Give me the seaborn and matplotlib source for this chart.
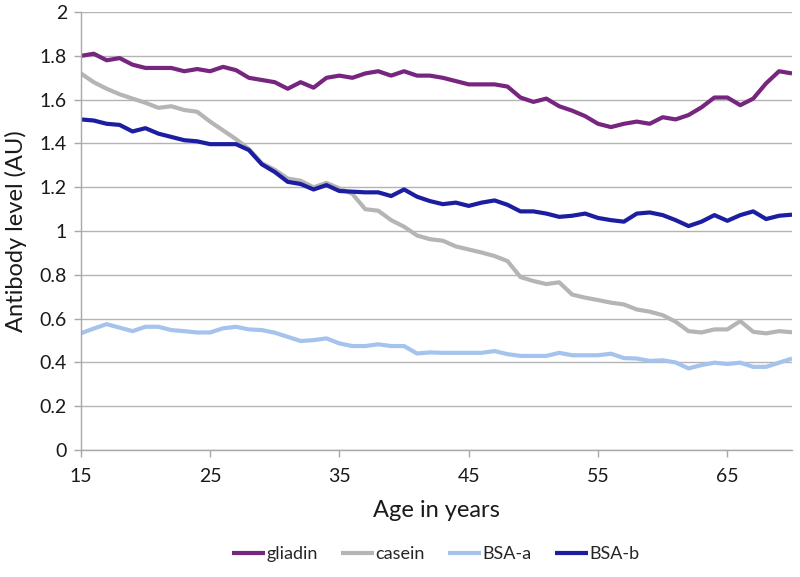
import pandas as pd
import numpy as np
import matplotlib
matplotlib.use('Agg')
import matplotlib.pyplot as plt
import seaborn as sns
from matplotlib.ticker import FuncFormatter

# Data (ages 15..70)
ages = list(range(15, 71))

gliadin = [1.80, 1.81, 1.78, 1.79, 1.76, 1.745, 1.745, 1.745, 1.73, 1.74,
           1.73, 1.75, 1.735, 1.70, 1.69, 1.68, 1.65, 1.68, 1.655, 1.70,
           1.71, 1.70, 1.72, 1.73, 1.71, 1.73, 1.71, 1.71, 1.70, 1.685,
           1.67, 1.67, 1.67, 1.66, 1.61, 1.59, 1.605, 1.57, 1.55, 1.525,
           1.49, 1.475, 1.49, 1.50, 1.49, 1.52, 1.51, 1.53, 1.565, 1.61,
           1.61, 1.575, 1.605, 1.675, 1.73, 1.72]

casein = [1.72, 1.68, 1.65, 1.625, 1.605, 1.586, 1.563, 1.57, 1.553, 1.545,
          1.50, 1.46, 1.42, 1.375, 1.31, 1.28, 1.24, 1.23, 1.20, 1.22,
          1.195, 1.17, 1.10, 1.093, 1.05, 1.02, 0.98, 0.963, 0.956, 0.93,
          0.916, 0.902, 0.886, 0.863, 0.79, 0.772, 0.758, 0.766, 0.71, 0.696,
          0.685, 0.673, 0.665, 0.642, 0.632, 0.616, 0.586, 0.543, 0.537, 0.551,
          0.551, 0.589, 0.54, 0.533, 0.543, 0.538]

bsa_a = [0.533, 0.555, 0.575, 0.559, 0.543, 0.563, 0.563, 0.548, 0.543, 0.537,
         0.537, 0.556, 0.563, 0.551, 0.548, 0.536, 0.517, 0.498, 0.502, 0.51,
         0.487, 0.475, 0.475, 0.483, 0.475, 0.475, 0.441, 0.446, 0.444, 0.444,
         0.444, 0.444, 0.452, 0.438, 0.43, 0.43, 0.43, 0.444, 0.433, 0.433,
         0.433, 0.44, 0.42, 0.418, 0.407, 0.41, 0.40, 0.373, 0.388, 0.399,
         0.393, 0.399, 0.38, 0.38, 0.399, 0.418]

bsa_b = [1.51, 1.505, 1.49, 1.485, 1.455, 1.47, 1.445, 1.43, 1.415, 1.41,
         1.397, 1.397, 1.397, 1.37, 1.305, 1.27, 1.225, 1.215, 1.19, 1.21,
         1.183, 1.18, 1.177, 1.177, 1.16, 1.19, 1.157, 1.137, 1.123, 1.13,
         1.115, 1.13, 1.14, 1.12, 1.09, 1.09, 1.08, 1.065, 1.07, 1.08,
         1.06, 1.05, 1.043, 1.08, 1.085, 1.073, 1.05, 1.023, 1.043, 1.073,
         1.047, 1.073, 1.09, 1.055, 1.07, 1.075]

series_names = ['gliadin', 'casein', 'BSA-a', 'BSA-b']
colors = ['#76267F', '#B5B5B5', '#A5C3EC', '#1C1EA2']

# Long-form table for seaborn
df = pd.concat([
    pd.DataFrame({'age': ages, 'level': vals, 'antigen': name})
    for name, vals in zip(series_names, [gliadin, casein, bsa_a, bsa_b])
])

sns.set_style('white')
plt.rcParams['font.family'] = ['Lato', 'DejaVu Sans']

fig = plt.figure(figsize=(8, 5.77), dpi=100)
ax = fig.add_axes([0.101, 0.22, 0.889, 0.759])

sns.lineplot(data=df, x='age', y='level', hue='antigen', hue_order=series_names,
             palette=colors, linewidth=3.0, ax=ax, legend=True)
for line in ax.lines:
    line.set_solid_capstyle('butt')
    line.set_solid_joinstyle('round')

ax.set_xlim(15, 70)
ax.set_ylim(0, 2)
ax.set_xticks([15, 25, 35, 45, 55, 65])
ax.set_yticks(np.arange(0, 2.01, 0.2))
ax.yaxis.set_major_formatter(FuncFormatter(lambda v, p: f'{v:g}'))

ax.grid(axis='y', color='#B4B4B4', linewidth=1.0)
ax.grid(axis='x', visible=False)
ax.set_axisbelow(True)

for side in ['top', 'right']:
    ax.spines[side].set_visible(False)
for side in ['left', 'bottom']:
    ax.spines[side].set_color('#A8A8A8')
    ax.spines[side].set_linewidth(1.0)

ax.tick_params(axis='both', which='major', length=5, width=1.0,
               color='#A8A8A8', labelsize=14, labelcolor='#1a1a1a', direction='out')
ax.tick_params(axis='x', pad=8, bottom=True)
ax.tick_params(axis='y', pad=5, left=True)

ax.set_xlabel('Age in years', fontsize=17, color='#1a1a1a', labelpad=11)
ax.set_ylabel('Antibody level (AU)', fontsize=17, color='#1a1a1a', labelpad=9)

# legend below the axes, in figure coordinates
handles, labels = ax.get_legend_handles_labels()
ax.get_legend().remove()
fig.legend(handles, labels, loc='center', bbox_to_anchor=(0.545, 0.04),
           ncol=4, frameon=False, fontsize=13, handlelength=1.8,
           handletextpad=0.1, columnspacing=1.3)

plt.savefig('out.png', dpi=100)
plt.close()
